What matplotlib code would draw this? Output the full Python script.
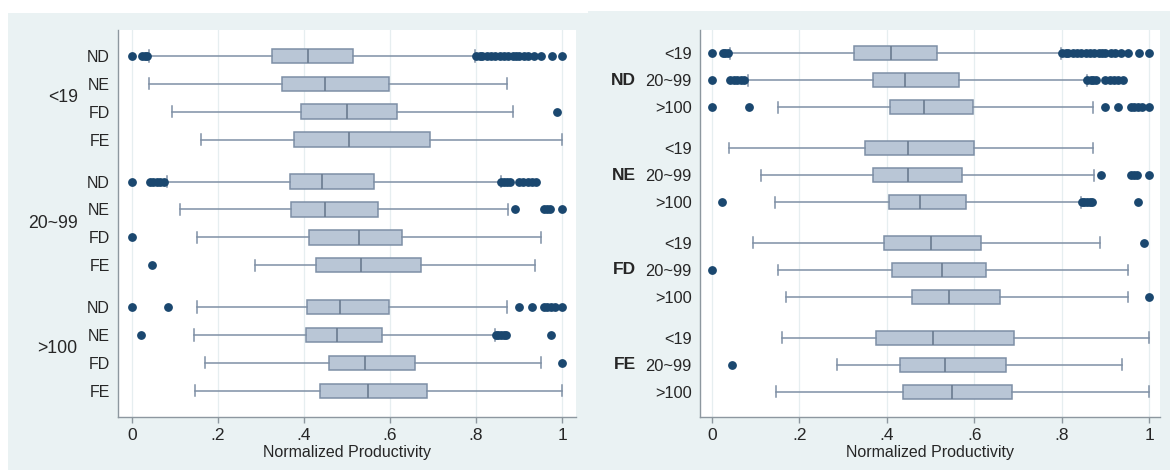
import matplotlib
matplotlib.use("Agg")
import matplotlib.pyplot as plt
from matplotlib.patches import Rectangle

plt.rcParams['font.family'] = ['Liberation Sans', 'DejaVu Sans']

sizes = ['<19', '20~99', '>100']
types = ['ND', 'NE', 'FD', 'FE']

# one value per box, order: <19 ND, NE, FD, FE, 20~99 ND ... >100 FE
whislo = [0.041, 0.039, 0.094, 0.161, 0.083, 0.111, 0.152, 0.287, 0.152, 0.145, 0.170, 0.147]
q1 = [0.325, 0.350, 0.393, 0.376, 0.368, 0.369, 0.411, 0.429, 0.408, 0.404, 0.458, 0.437]
med = [0.409, 0.448, 0.501, 0.506, 0.442, 0.448, 0.527, 0.532, 0.484, 0.476, 0.542, 0.548]
q3 = [0.515, 0.599, 0.616, 0.692, 0.564, 0.572, 0.627, 0.672, 0.598, 0.582, 0.658, 0.687]
whishi = [0.798, 0.871, 0.887, 0.999, 0.858, 0.874, 0.951, 0.937, 0.871, 0.844, 0.951, 0.999]
fliers = [
    [0.0, 0.024, 0.030, 0.036, 0.80, 0.81, 0.815, 0.825, 0.835, 0.845, 0.855, 0.865,
     0.875, 0.885, 0.893, 0.90, 0.912, 0.922, 0.935, 0.952, 0.977, 1.0],
    [],
    [0.989],
    [],
    [0.0, 0.042, 0.05, 0.058, 0.066, 0.074, 0.858, 0.866, 0.872, 0.878, 0.90, 0.91,
     0.92, 0.93, 0.94],
    [0.891, 0.958, 0.966, 0.972, 0.999],
    [0.0],
    [0.046],
    [0.0, 0.085, 0.899, 0.93, 0.958, 0.966, 0.974, 0.984, 0.999],
    [0.022, 0.846, 0.852, 0.858, 0.864, 0.870, 0.974],
    [0.999],
    [],
]

bg = '#eaf2f3'
boxfill = '#b9c6d6'
boxedge = '#7d8fa6'
linecol = '#7f90a5'
navy = '#1a476f'
textcol = '#262626'
axcol = '#8d979f'

W, H = 1170, 470
fig = plt.figure(figsize=(W / 100, H / 100), dpi=100)
fig.add_artist(Rectangle((8 / W, 0), 580 / W, 1 - 13 / H, transform=fig.transFigure,
                         facecolor=bg, edgecolor='none', zorder=0))
fig.add_artist(Rectangle((588 / W, 0), 582 / W, 1 - 11 / H, transform=fig.transFigure,
                         facecolor=bg, edgecolor='none', zorder=0))

ax1 = fig.add_axes([118 / W, 1 - 417 / H, 458 / W, 387 / H])
ax2 = fig.add_axes([700 / W, 1 - 417 / H, 460 / W, 387 / H])


def draw(ax, order, positions, ticklabels, xlim, ylim, tick_fs):
    stats = []
    for k in order:
        stats.append(dict(whislo=whislo[k], q1=q1[k], med=med[k], q3=q3[k],
                          whishi=whishi[k], fliers=fliers[k]))
    ax.bxp(stats, positions=positions, orientation='horizontal', widths=0.52,
           capwidths=0.4, patch_artist=True,
           boxprops=dict(facecolor=boxfill, edgecolor=boxedge, linewidth=1.1),
           medianprops=dict(color='#6a7b90', linewidth=1.2),
           whiskerprops=dict(color=linecol, linewidth=1.1),
           capprops=dict(color=linecol, linewidth=1.1),
           flierprops=dict(marker='o', markerfacecolor=navy, markeredgecolor=navy,
                           markersize=5.3))
    ax.set_xlim(*xlim)
    ax.set_ylim(*ylim)
    ax.set_xticks([0, 0.2, 0.4, 0.6, 0.8, 1.0], ['0', '.2', '.4', '.6', '.8', '1'])
    ax.set_yticks(positions, ticklabels)
    ax.tick_params(axis='y', length=0, pad=6, labelsize=tick_fs, labelcolor=textcol)
    ax.tick_params(axis='x', length=4, width=1, color=axcol, pad=4, labelsize=12.5,
                   labelcolor=textcol)
    ax.grid(axis='x', color='#e6eef0', linewidth=0.9)
    ax.set_axisbelow(True)
    for s in ['top', 'right']:
        ax.spines[s].set_visible(False)
    for s in ['left', 'bottom']:
        ax.spines[s].set_color(axcol)
        ax.spines[s].set_linewidth(1.0)
    ax.set_xlabel('Normalized Productivity', fontsize=11.5, color=textcol, labelpad=1)


# left: grouped by size, boxes by type
order1, pos1, lab1 = [], [], []
for s in range(3):
    for t in range(4):
        order1.append(s * 4 + t)
        pos1.append(s * 4.5 + t)
        lab1.append(types[t])
draw(ax1, order1, pos1, lab1, (-0.032, 1.0325), (12.94, -0.93), 11.5)
for s in range(3):
    ax1.annotate(sizes[s], xy=(0, s * 4.5 + 1.5), xycoords=('axes fraction', 'data'),
                 xytext=(-29, 0), textcoords='offset points', ha='right', va='center',
                 fontsize=12.7, color=textcol)

# right: grouped by type, boxes by size
order2, pos2, lab2 = [], [], []
for t in range(4):
    for s in range(3):
        order2.append(s * 4 + t)
        pos2.append(t * 3.5 + s)
        lab2.append(sizes[s])
draw(ax2, order2, pos2, lab2, (-0.0275, 1.025), (13.43, -0.86), 11.8)
for t in range(4):
    ax2.annotate(types[t], xy=(0, t * 3.5 + 1), xycoords=('axes fraction', 'data'),
                 xytext=(-46, 0), textcoords='offset points', ha='right', va='center',
                 fontsize=12.5, fontweight='bold', color=textcol)

fig.savefig('out.png', dpi=100, facecolor='white')
